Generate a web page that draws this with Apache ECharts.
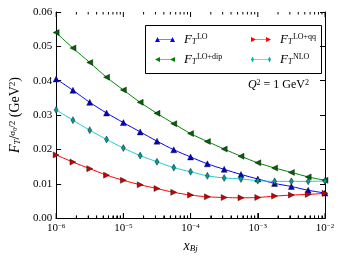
<!DOCTYPE html>
<html><head><meta charset="utf-8">
<script src="https://cdn.jsdelivr.net/npm/echarts@6/dist/echarts.min.js"></script>
<style>html,body{margin:0;padding:0;background:#fff}#c{width:344px;height:258px}</style>
</head><body><div id="c"></div>
<script>
// log10 of x_Bj at each marker
var xExponents = [-6,-5.75,-5.5,-5.25,-5,-4.75,-4.5,-4.25,-4,-3.75,-3.5,-3.25,-3,-2.75,-2.5,-2.25,-2];
var valLO    = [0.0405,0.0372,0.0337,0.0306,0.0278,0.0251,0.0224,0.0199,0.0178,0.0158,0.0142,0.0127,0.0114,0.0101,0.0092,0.0081,0.0073];
var valLOdip = [0.0540,0.0495,0.0453,0.0410,0.0373,0.0337,0.0305,0.0275,0.0246,0.0223,0.0201,0.0180,0.0161,0.0146,0.0133,0.0120,0.0110];
var valLOqq  = [0.0184,0.0163,0.0144,0.0125,0.0110,0.0097,0.0086,0.0075,0.0067,0.0062,0.0060,0.0059,0.0060,0.0064,0.0067,0.0069,0.0072];
var valNLO   = [0.0315,0.0285,0.0256,0.0229,0.0204,0.0182,0.0164,0.0147,0.0135,0.0123,0.0117,0.0114,0.0109,0.0107,0.0107,0.0107,0.0108];
var yTicks = ['0.00','0.01','0.02','0.03','0.04','0.05','0.06'];
var majorXTicks = [1e-6, 1e-5, 1e-4, 1e-3, 1e-2];
var minorMantissas = [2,3,4,5,6,7,8,9];
var decades = [-6,-5,-4,-3];

var FONT = 'Liberation Serif';
var TICK = '#000';
function pairs(vals){ return vals.map(function(v,i){ return [Math.pow(10, xExponents[i]), v]; }); }
var minorData = [];
decades.forEach(function(d){ minorMantissas.forEach(function(m){ minorData.push([m*Math.pow(10,d), 0]); }); });
var majorData = majorXTicks.map(function(v){ return [v, 0]; });

var symUp = 'triangle';
var symLeft = 'path://M0,5 L10,0 L10,10 Z';
var symRight = 'path://M0,0 L10,5 L0,10 Z';
var symDiamond = 'path://M3,0 L6,5 L3,10 L0,5 Z';

function lineSeries(name, vals, color, lineColor, sym, size){
  return {
    name: name, type: 'line', data: pairs(vals), smooth: 0.3,
    symbol: sym, symbolSize: size, showAllSymbol: true,
    lineStyle: {color: lineColor, width: 1},
    itemStyle: {color: color, borderColor: '#000', borderWidth: 0.4},
    emphasis: {disabled: true}, z: 3
  };
}
function tickSeries(data, len){
  return {type: 'custom', silent: true, data: data, z: 8, clip: false,
    renderItem: function(params, api){
      var x = api.value(0);
      var b = api.coord([x, 0]), t = api.coord([x, 0.06]);
      return {type: 'group', children: [
        {type: 'line', shape: {x1: b[0], y1: b[1], x2: b[0], y2: b[1] - len}, style: {stroke: TICK, lineWidth: 1}},
        {type: 'line', shape: {x1: b[0], y1: t[1], x2: b[0], y2: t[1] + len}, style: {stroke: TICK, lineWidth: 1}}
      ]};
    }};
}
var legRich = {
  f: {fontFamily: FONT, fontStyle: 'italic', fontSize: 13, color: '#000', verticalAlign: 'middle'},
  s: {fontFamily: FONT, fontStyle: 'italic', fontSize: 8, color: '#000', verticalAlign: 'bottom', width: 1},
  p: {fontFamily: FONT, fontSize: 8, color: '#000', verticalAlign: 'top', padding: [0,0,0,4]}
};
function legFmt(n){ return '{f|F}{s|T}{p|' + n + '}'; }
var iconUp = 'path://M0,6 L2.5,1 L5,6 Z M2.5,3.2 L17.5,3.2 L17.5,3.8 L2.5,3.8 Z M15,6 L17.5,1 L20,6 Z';
var iconLeft = 'path://M0,3.5 L5,1 L5,6 Z M2,3.2 L18,3.2 L18,3.8 L2,3.8 Z M15,3.5 L20,1 L20,6 Z';
var iconRight = 'path://M0,1 L5,3.5 L0,6 Z M2,3.2 L18,3.2 L18,3.8 L2,3.8 Z M15,1 L20,3.5 L15,6 Z';
var iconDia = 'path://M1.5,0.5 L3,3.5 L1.5,6.5 L0,3.5 Z M1.5,3.2 L18.5,3.2 L18.5,3.8 L1.5,3.8 Z M18.5,0.5 L20,3.5 L18.5,6.5 L17,3.5 Z';

var chart = echarts.init(document.getElementById('c'), null, {renderer: 'canvas'});
chart.setOption({
  animation: false,
  grid: {left: 52, right: 19, top: 12, bottom: 35},
  title: {
    text: '{i|Q}{p|2}{n| = 1 GeV}{p|2}', right: 30, top: 74,
    textStyle: {fontWeight: 'normal', rich: {
      i: {fontFamily: FONT, fontStyle: 'italic', fontWeight: 'normal', fontSize: 12, color: '#000', verticalAlign: 'middle'},
      n: {fontFamily: FONT, fontWeight: 'normal', fontSize: 12, color: '#000', verticalAlign: 'middle'},
      p: {fontFamily: FONT, fontWeight: 'normal', fontSize: 8, color: '#000', verticalAlign: 'top'}
    }}
  },
  legend: [
    {data: [{name: 'LO', icon: iconUp, itemStyle: {color: '#0000ff', borderWidth: 0}},
            {name: 'LO+dip', icon: iconLeft, itemStyle: {color: '#008000', borderWidth: 0}}],
     orient: 'vertical', left: 150, top: 28,
     itemWidth: 20, itemHeight: 6, itemGap: 7, formatter: legFmt, textStyle: {rich: legRich, padding: [0,0,0,4]}, selectedMode: false},
    {data: [{name: 'LO+qq', icon: iconRight, itemStyle: {color: '#ff0000', borderWidth: 0}},
            {name: 'NLO', icon: iconDia, itemStyle: {color: '#00b0b0', borderWidth: 0}}],
     orient: 'vertical', left: 246, top: 28,
     itemWidth: 20, itemHeight: 6, itemGap: 7, formatter: legFmt, textStyle: {rich: legRich, padding: [0,0,0,4]}, selectedMode: false}
  ],
  graphic: [{type: 'rect', shape: {x: 145.5, y: 25.5, width: 176, height: 48}, style: {fill: null, stroke: '#000', lineWidth: 1}, z: 10}],
  xAxis: [
    {type: 'log', logBase: 10, min: 1e-6, max: 1e-2, position: 'bottom',
     name: '{i|x}{s|Bj}', nameLocation: 'middle', nameGap: 18,
     nameTextStyle: {rich: {
       i: {fontFamily: FONT, fontStyle: 'italic', fontSize: 14, color: '#000', verticalAlign: 'middle'},
       s: {fontFamily: FONT, fontStyle: 'italic', fontSize: 9, color: '#000', verticalAlign: 'bottom'}
     }},
     axisLine: {show: true, lineStyle: {color: '#000', width: 1}},
     axisTick: {show: true, inside: true, length: 5, lineStyle: {color: TICK, width: 1}},
     minorTick: {show: true, splitNumber: 9, length: 2.5, lineStyle: {color: TICK, width: 1}},
     axisLabel: {margin: 5, formatter: function(v){ return '{b|10}{s|−' + Math.round(-Math.log10(v)) + '}'; },
       rich: {b: {fontFamily: FONT, fontSize: 11, color: '#000', verticalAlign: 'bottom'},
              s: {fontFamily: FONT, fontSize: 7, color: '#000', verticalAlign: 'top'}}},
     splitLine: {show: false}},
    {type: 'log', logBase: 10, min: 1e-6, max: 1e-2, position: 'top',
     axisLine: {show: true, lineStyle: {color: '#000', width: 1}},
     axisTick: {show: false}, axisLabel: {show: false}, splitLine: {show: false}}
  ],
  yAxis: [
    {type: 'value', min: 0, max: 0.06, interval: 0.01, position: 'left',
     name: '{f|F}{s|T}{n|/}{g|σ}{z|0}{g|/2}{n| (GeV}{p|2}{n|)}', nameLocation: 'middle', nameGap: 32, nameRotate: 90,
     nameTextStyle: {rich: {
       f: {fontFamily: FONT, fontStyle: 'italic', fontSize: 14, color: '#000', verticalAlign: 'middle'},
       s: {fontFamily: FONT, fontStyle: 'italic', fontSize: 9, color: '#000', verticalAlign: 'bottom'},
       n: {fontFamily: FONT, fontSize: 14, color: '#000', verticalAlign: 'middle'},
       g: {fontFamily: FONT, fontSize: 9, color: '#000', verticalAlign: 'top'},
       z: {fontFamily: FONT, fontSize: 6, color: '#000', verticalAlign: 'top', padding: [4,0,0,0]},
       p: {fontFamily: FONT, fontSize: 9, color: '#000', verticalAlign: 'top'}
     }},
     axisLine: {show: true, lineStyle: {color: '#000', width: 1}},
     axisTick: {show: true, inside: true, length: 5, lineStyle: {color: TICK, width: 1}},
     axisLabel: {margin: 4, fontFamily: FONT, fontSize: 11, color: '#000', formatter: function(v, i){ return yTicks[i]; }},
     splitLine: {show: false}},
    {type: 'value', min: 0, max: 0.06, interval: 0.01, position: 'right',
     axisLine: {show: true, lineStyle: {color: '#000', width: 1}},
     axisTick: {show: true, inside: true, length: 5, lineStyle: {color: TICK, width: 1}},
     axisLabel: {show: false}, splitLine: {show: false}}
  ],
  series: [
    lineSeries('LO', valLO, '#0000cc', '#0000ff', symUp, 6),
    lineSeries('LO+dip', valLOdip, '#006400', '#008000', symLeft, [6,6]),
    lineSeries('LO+qq', valLOqq, '#cc0000', '#ff0000', symRight, [6,6]),
    lineSeries('NLO', valNLO, '#009a9a', '#20cccc', symDiamond, [4,7]),
    tickSeries(majorData, 5),
    tickSeries(minorData, 2.5)
  ]
});
</script></body></html>
